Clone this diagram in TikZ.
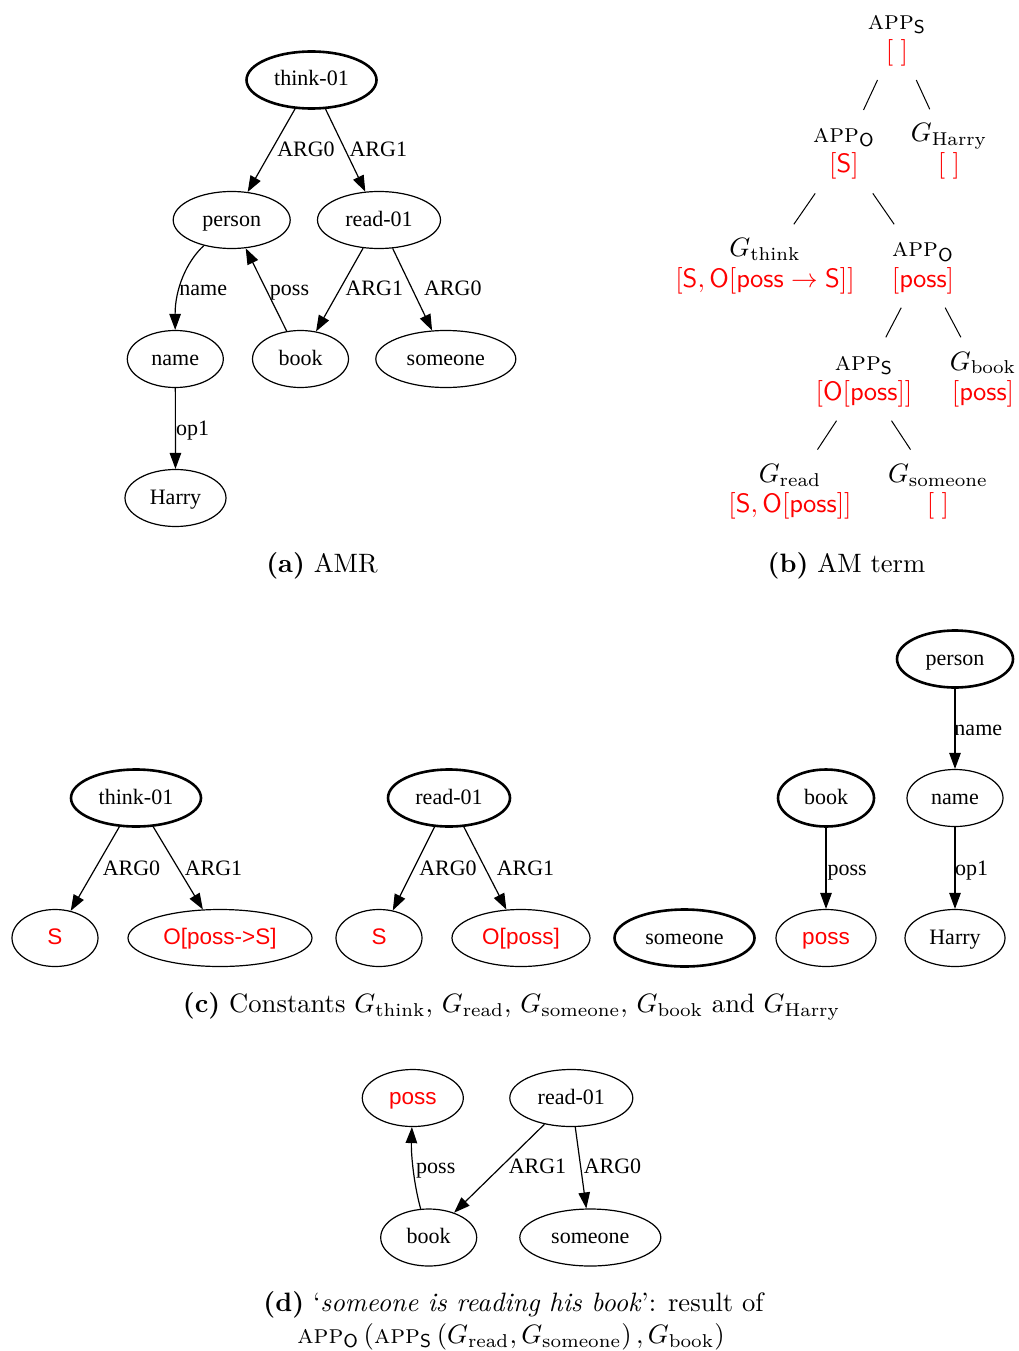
\documentclass[tikz,border=0pt]{standalone}
\usepackage{fontspec}
\usepackage{amsmath}
\usetikzlibrary{shapes.geometric,arrows.meta}
\newfontfamily\gvserif{Liberation Serif}
\newfontfamily\gvsans{Liberation Sans}
\definecolor{gvred}{RGB}{255,0,0}

% operation names and two-line tree entries (term above, red type below)
\newcommand\Appop[1]{\textsc{app}_{\mathsf{#1}}}
\newcommand\amentry[2]{{\renewcommand\arraystretch{0.94}\begin{tabular}{@{}c@{}}#1\\ \color{gvred}#2\end{tabular}}}

\tikzset{
  gv/.style={ellipse, draw, line width=1.2pt, inner sep=0pt, minimum height=57pt,
    text height=16pt, text depth=4pt, font=\gvserif\fontsize{22}{26}\selectfont},
  root/.style={line width=2.6pt},
  src/.style={text=gvred, font=\gvsans\fontsize{22.5}{26}\selectfont},
  wd/.style={minimum width=#1pt},
  lbl/.style={anchor=base, inner sep=0pt, font=\gvserif\fontsize{22}{26}\selectfont},
  arc/.style={line width=1.2pt, -{Triangle[length=16pt,width=11.5pt]}},
  tn/.style={scale=2.66, inner sep=4.2pt, align=center},
  tl/.style={line width=1pt},
  captxt/.style={scale=2.66, anchor=base, inner sep=0pt}
}

\begin{document}
\begin{tikzpicture}[x=1pt,y=-1pt]
\useasboundingbox[fill=white] (0,0) rectangle (1019,1351);

% ---------- (a) AMR ----------
\node[gv,root,wd=130] (a-think) at (311.5,80) {think-01};
\node[gv,wd=117] (a-person) at (231.7,220) {person};
\node[gv,wd=123] (a-read) at (379,220) {read-01};
\node[gv,wd=96] (a-name) at (175.3,359) {name};
\node[gv,wd=96] (a-book) at (300.5,359) {book};
\node[gv,wd=140] (a-someone) at (445.8,359) {someone};
\node[gv,wd=101] (a-harry) at (175.5,498) {Harry};

\draw[arc] (a-think) -- (a-person);
\draw[arc] (a-think) -- (a-read);
\draw[arc] (a-person) .. controls (186,262) and (175,290) .. (a-name);
\draw[arc] (a-book) -- (a-person);
\draw[arc] (a-read) -- (a-book);
\draw[arc] (a-read) -- (a-someone);
\draw[arc] (a-name) -- (a-harry);

\node[lbl] (a-l1) at (306,156.5) {ARG0};
\node[lbl] (a-l2) at (378.3,156.5) {ARG1};
\node[lbl] (a-l3) at (203.3,295.5) {name};
\node[lbl] (a-l4) at (289.5,295.5) {poss};
\node[lbl] (a-l5) at (374.3,295.5) {ARG1};
\node[lbl] (a-l6) at (452.8,295.5) {ARG0};
\node[lbl] (a-l7) at (192.7,435) {op1};

\node[captxt] (cap-a) at (322,572) {\textbf{(a)} AMR};

% ---------- (b) AM term ----------
\node[tn] (t0) at (897,38.3) {\amentry{$\Appop{S}$}{$\mathsf{[\;]}$}};
\node[tn] (t1) at (844,151.7) {\amentry{$\Appop{O}$}{$\mathsf{[S]}$}};
\node[tn] (t2) at (949,151) {\amentry{$G_{\mathrm{Harry}}$}{$\mathsf{[\;]}$}};
\node[tn] (t3) at (765,266) {\amentry{$G_{\mathrm{think}}$}{$\mathsf{[S, O[poss \rightarrow S]]}$}};
\node[tn] (t4) at (923,266) {\amentry{$\Appop{O}$}{$\mathsf{[poss]}$}};
\node[tn] (t5) at (864,379) {\amentry{$\Appop{S}$}{$\mathsf{[O[poss]]}$}};
\node[tn] (t6) at (983,379) {\amentry{$G_{\mathrm{book}}$}{$\mathsf{[poss]}$}};
\node[tn] (t7) at (790,491.3) {\amentry{$G_{\mathrm{read}}$}{$\mathsf{[S, O[poss]]}$}};
\node[tn] (t8) at (938,491.3) {\amentry{$G_{\mathrm{someone}}$}{$\mathsf{[\;]}$}};

\draw[tl] (t0) -- (t1);
\draw[tl] (t0) -- (t2);
\draw[tl] (t1) -- (t3);
\draw[tl] (t1) -- (t4);
\draw[tl] (t4) -- (t5);
\draw[tl] (t4) -- (t6);
\draw[tl] (t5) -- (t7);
\draw[tl] (t5) -- (t8);

\node[captxt] (cap-b) at (846.5,572) {\textbf{(b)} AM term};

% ---------- (c) constants ----------
\node[gv,root,wd=130] (c-think) at (136,798) {think-01};
\node[gv,src,wd=86] (c-s1) at (55,938) {S};
\node[gv,src,wd=184] (c-o1) at (220,938) {O[poss->S]};
\node[gv,root,wd=122] (c-read) at (449,798) {read-01};
\node[gv,src,wd=86] (c-s2) at (379,938) {S};
\node[gv,src,wd=138] (c-o2) at (521,938) {O[poss]};
\node[gv,root,wd=140] (c-someone) at (684.5,938) {someone};
\node[gv,root,wd=96] (c-book) at (826,798) {book};
\node[gv,src,wd=100] (c-poss) at (826,938) {poss};
\node[gv,root,wd=116] (c-person) at (955,659) {person};
\node[gv,wd=96] (c-name) at (955,798) {name};
\node[gv,wd=100] (c-harry) at (955,938) {Harry};

\draw[arc] (c-think) -- (c-s1);
\draw[arc] (c-think) -- (c-o1);
\draw[arc] (c-read) -- (c-s2);
\draw[arc] (c-read) -- (c-o2);
\draw[arc] (c-book) -- (c-poss);
\draw[arc] (c-person) -- (c-name);
\draw[arc] (c-name) -- (c-harry);

\node[lbl] (c-l1) at (131.5,875) {ARG0};
\node[lbl] (c-l2) at (213.5,875) {ARG1};
\node[lbl] (c-l3) at (448,875) {ARG0};
\node[lbl] (c-l4) at (525.5,875) {ARG1};
\node[lbl] (c-l5) at (847.2,875) {poss};
\node[lbl] (c-l6) at (978.3,735) {name};
\node[lbl] (c-l7) at (971.7,875) {op1};

\node[captxt] (cap-c) at (511.5,1012) {\textbf{(c)} Constants $G_{\mathrm{think}}$, $G_{\mathrm{read}}$, $G_{\mathrm{someone}}$, $G_{\mathrm{book}}$ and $G_{\mathrm{Harry}}$};

% ---------- (d) result ----------
\node[gv,src,wd=101] (d-poss) at (412.8,1098) {poss};
\node[gv,wd=123] (d-read) at (571.3,1098) {read-01};
\node[gv,wd=96] (d-book) at (428.7,1237.5) {book};
\node[gv,wd=141] (d-someone) at (590.3,1237.5) {someone};

\draw[arc] (d-book) .. controls (414,1185) and (411,1155) .. (d-poss);
\draw[arc] (d-read) -- (d-book);
\draw[arc] (d-read) -- (d-someone);

\node[lbl] (d-l1) at (435.8,1173) {poss};
\node[lbl] (d-l2) at (537.5,1173) {ARG1};
\node[lbl] (d-l3) at (612.5,1173) {ARG0};

\node[captxt] (cap-d1) at (513.5,1311) {\textbf{(d)} `\textit{someone is reading his book}': result of};
\node[captxt] (cap-d2) at (511,1343) {$\Appop{O}\left(\Appop{S}\left(G_{\mathrm{read}}, G_{\mathrm{someone}}\right), G_{\mathrm{book}}\right)$};
\end{tikzpicture}
\end{document}
